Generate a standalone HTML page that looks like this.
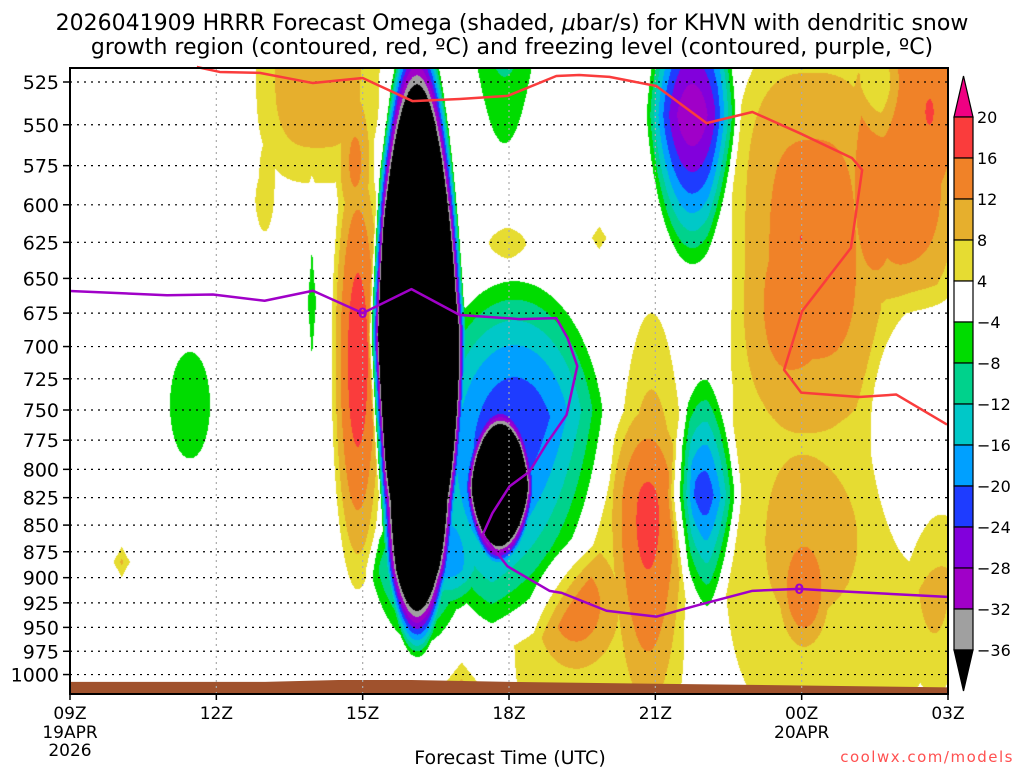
<!DOCTYPE html>
<html><head><meta charset="utf-8">
<style>
html,body{margin:0;padding:0;background:#fff;}
#wrap{position:relative;width:1024px;height:768px;overflow:hidden;background:#fff;}
#field{position:absolute;left:70px;top:68px;}
svg{position:absolute;left:0;top:0;}
text{font-family:"DejaVu Sans","Liberation Sans",sans-serif;fill:#000;}
</style></head>
<body>
<div id="wrap">
<canvas id="field" width="878" height="626"></canvas>
<svg id="svg" width="1024" height="768"></svg>
</div>
<script>
// ---- data ----
const pressureLevels=[525,550,575,600,625,650,675,700,725,750,775,800,825,850,875,900,925,950,975,1000];
const timeTicks=[9,12,15,18,21,24,27];
const timeLabels=["09Z","12Z","15Z","18Z","21Z","00Z","03Z"];
const cbLevels=[20,16,12,8,4,-4,-8,-12,-16,-20,-24,-28,-32,-36];
// omega features: hour, pressure (hPa), half-width (h), half-depth (ln p), amplitude (µbar/s), x-power, y-power
const blobHour=[16.11,18.11,17.81,16.17,17.91,21.76,22.02,11.46,13.96,14.90,14.08,12.99,17.97,19.85,10.06,17.03,19.85,20.92,19.34,24.15,26.30,26.92,23.99,23.74,24.05,26.92,23.34,24.77,26.4,25.6];
const blobPres=[691,787.6,816.4,892.5,512.6,544.2,822.6,746,667.6,710.3,516.5,596.9,625.5,622,884.8,1009,932.3,818.2,927.2,620,553.1,530,622,892.5,912.2,902.3,695,726,770,528];
const blobWh=[1.0,2.05,0.68,1.13,0.78,1.0,0.78,0.6,0.25,0.61,1.5,0.29,0.8,0.3,0.3,0.6,2.2,0.85,0.92,1.6,1.23,0.7,0.25,2.25,0.51,0.72,0.92,2.7,1.3,0.45];
const blobWp=[0.358,0.207,0.082,0.098,0.163,0.179,0.147,0.085,0.174,0.283,0.15,0.060,0.035,0.025,0.03,0.04,0.217,0.26,0.071,0.22,0.2,0.1,0.030,0.185,0.065,0.152,0.087,0.45,0.17,0.07];
const blobAmp=[-120,-24,-60,-18,-9,-31,-23,-7.5,-6,18,10,7,6,8,9,9,8,11,6,6.5,9,4,3,2,7,5,1,7,-7,-7];
const blobPx=[2,2,2,2,2,2,2,2,1,2,3,2,1.5,1,1,1,3,2,2,3,3,2,1,2,2,2,2,4,2,2];
const blobPy=[1.3,2,1.5,1.3,1,1.4,1.2,2,1,2,3,1.5,1.5,1,1,1,3,1.5,2,3,3,2,1,2,2,2,2,4,2,1.5];
// dendritic growth (red) contour
const redHour=[11.60,12.07,12.89,13.98,15.0,16.02,16.99,17.97,18.97,19.44,20.06,21.02,22.05,22.99,23.95,25.03,25.24,25.01,24.01,23.64,23.99,25.18,25.94,26.98];
const redPres=[516.5,519.3,519.8,525.6,522.7,536,534.8,533,521.6,521,522.1,527.3,549,542.4,554.9,570.2,577.7,628.8,673.5,718,736,739.5,737.5,762];
// freezing level (purple) contour
const frzHour=[9,10.99,11.93,12.99,13.98,15.0,16.0,16.99,18.22,18.97,19.2,19.4,19.18,18.77,18.42,18.01,17.66,17.46,17.97,18.83,19.08,20.0,21.02,21.9,22.99,23.95,24.63,26.98];
const frzPres=[659,662,661.5,666,658.8,675,657.6,676.4,679.4,678.7,693.5,715,754,778,802,815,839,859,889,913,915,933,939,927,913,911,913,919];
const frzLabelHour=[15.0,23.95];
const frzLabelPres=[675,911];
// surface pressure (ground)
const sfcHour=[9,13,14.5,16,18,21,24,27];
const sfcPres=[1008,1008,1006,1006,1008,1010,1012,1014];

// ---- axes ----
const X0=70,X1=948,Y0=68,Y1=694;
const xs=h=>X0+(h-9)*(X1-X0)/18;
const KY=919.6;
const ys=p=>82+KY*Math.log(p/525);
const hAt=x=>9+(x-X0)*18/(X1-X0);
const lnpAt=y=>Math.log(525)+(y-82)/KY;

// ---- field ----
const cols=["#000000","#a0a0a0","#a000c8","#8200dc","#1e3cff","#00a0ff","#00c8c8","#00d28c","#00dc00","#ffffff","#e6dc32","#e6af2d","#f08228","#fa3c3c","#f00082"];
const edges=[-36,-32,-28,-24,-20,-16,-12,-8,-4,4,8,12,16,20];
function hex(c){return [parseInt(c.substr(1,2),16),parseInt(c.substr(3,2),16),parseInt(c.substr(5,2),16)];}
const rgb=cols.map(hex);
const cv=document.getElementById('field');const ctx=cv.getContext('2d');
const W=cv.width,H=cv.height;const img=ctx.createImageData(W,H);
const nb=blobHour.length;const lnc=blobPres.map(p=>Math.log(p));
for(let j=0;j<H;j++){const lp=lnpAt(Y0+j+0.5);
 for(let i=0;i<W;i++){const h=hAt(X0+i+0.5);let v=0;
  for(let k=0;k<nb;k++){const dx=Math.abs(h-blobHour[k])/blobWh[k];if(dx>=1)continue;
   const dy=Math.abs(lp-lnc[k])/blobWp[k];if(dy>=1)continue;
   const d=Math.pow(dx,blobPx[k])+Math.pow(dy,blobPy[k]);if(d<1)v+=blobAmp[k]*(1-d);}
  let c=0;while(c<edges.length&&v>=edges[c])c++;
  const o=(j*W+i)*4,col=rgb[c];img.data[o]=col[0];img.data[o+1]=col[1];img.data[o+2]=col[2];img.data[o+3]=255;}}
ctx.putImageData(img,0,0);

// ---- svg overlay ----
const NS="http://www.w3.org/2000/svg";const svg=document.getElementById('svg');
function mk(tag,attrs,parent){const e=document.createElementNS(NS,tag);for(const k in attrs)e.setAttribute(k,attrs[k]);(parent||svg).appendChild(e);return e;}
// ground
let gp=sfcHour.map((h,i)=>xs(h)+","+ys(sfcPres[i])).join(" ");
gp+=" "+X1+","+Y1+" "+X0+","+Y1;
const ground=mk('polygon',{points:gp,fill:"#a0522d"});


// grid
const gg=mk('g',{});


timeTicks.forEach(t=>{if(t===9||t===27)return;const l=mk('line',{x1:xs(t),x2:xs(t),y1:Y0,y2:Y1,stroke:"#aaa","stroke-width":1.2,"stroke-dasharray":"2,4"},gg);
 
 });
pressureLevels.forEach(p=>{const l=mk('line',{x1:X0,x2:X1,y1:ys(p),y2:ys(p),stroke:"#000","stroke-width":1.2,"stroke-dasharray":"2,5"},gg);
 
 });
// red contour
const red=mk('polyline',{points:redHour.map((h,i)=>xs(h)+","+ys(redPres[i])).join(" "),fill:"none",stroke:"#fa3c3c","stroke-width":2.5,"stroke-linejoin":"round"});


// purple freezing line
const frz=mk('polyline',{points:frzHour.map((h,i)=>xs(h)+","+ys(frzPres[i])).join(" "),fill:"none",stroke:"#a000c8","stroke-width":2.5,"stroke-linejoin":"round"});


frzLabelHour.forEach((h,i)=>{const t=mk('text',{x:xs(h),y:ys(frzLabelPres[i])+5,"text-anchor":"middle","font-size":14,"font-weight":"bold",style:"fill:#a000c8"});t.textContent="0";
 
 });
// frame
const fr=mk('rect',{x:X0,y:Y0,width:X1-X0,height:Y1-Y0,fill:"none",stroke:"#000","stroke-width":2});


// y axis
pressureLevels.forEach(p=>{mk('line',{x1:X0-7,x2:X0,y1:ys(p),y2:ys(p),stroke:"#000","stroke-width":1.5});
 const t=mk('text',{x:59,y:ys(p)+7,"text-anchor":"end","font-size":19});t.textContent=p;
 
 });
// x axis
timeTicks.forEach((tt,i)=>{mk('line',{x1:xs(tt),x2:xs(tt),y1:Y1,y2:Y1+6,stroke:"#000","stroke-width":1.5});
 const t=mk('text',{x:xs(tt),y:719,"text-anchor":"middle","font-size":17});t.textContent=timeLabels[i];
 
 });
function txt(x,y,s,size,name,anchor,extra){const t=mk('text',Object.assign({x:x,y:y,"font-size":size,"text-anchor":anchor||"middle"},extra||{}));t.textContent=s;
 
 return t;}
txt(xs(9),738,"19APR",17,"date-label");
txt(xs(9),756,"2026",17,"year-label");
txt(xs(24),738,"20APR",17,"date-label-2");
txt(510,764,"Forecast Time (UTC)",19,"x-axis-title");
txt(1014,762,"coolwx.com/models",15,"source-credit","end",{style:"fill:#ff5050;letter-spacing:1.5px"});
// title
const t1=mk('text',{x:512,y:30,"text-anchor":"middle","font-size":22});


t1.innerHTML='2026041909 HRRR Forecast Omega (shaded, <tspan font-style="italic">μ</tspan>bar/s) for KHVN with dendritic snow';
txt(512,54,"growth region (contoured, red, ºC) and freezing level (contoured, purple, ºC)",22,"chart-title-line-2");
// colorbar
const CBX=954,CBW=19,CBT=117,SEG=41;
const cbg=mk('g',{});


const cbTop=mk('polygon',{points:`${CBX},${CBT} ${CBX+CBW},${CBT} ${CBX+CBW/2},${CBT-41}`,fill:cols[14],stroke:"#000","stroke-width":1.2},cbg);


for(let k=0;k<13;k++){const r=mk('rect',{x:CBX,y:CBT+k*SEG,width:CBW,height:SEG,fill:cols[13-k],stroke:"#000","stroke-width":1.2},cbg);
 
 }
const cbBot=mk('polygon',{points:`${CBX},${CBT+13*SEG} ${CBX+CBW},${CBT+13*SEG} ${CBX+CBW/2},${CBT+14*SEG}`,fill:"#000",stroke:"#000","stroke-width":1.2},cbg);


cbLevels.forEach((v,k)=>{const t=mk('text',{x:977,y:CBT+k*SEG+6,"font-size":16},cbg);t.textContent=(v<0?"\u2212"+(-v):v);
 
 });
</script>
</body></html>
